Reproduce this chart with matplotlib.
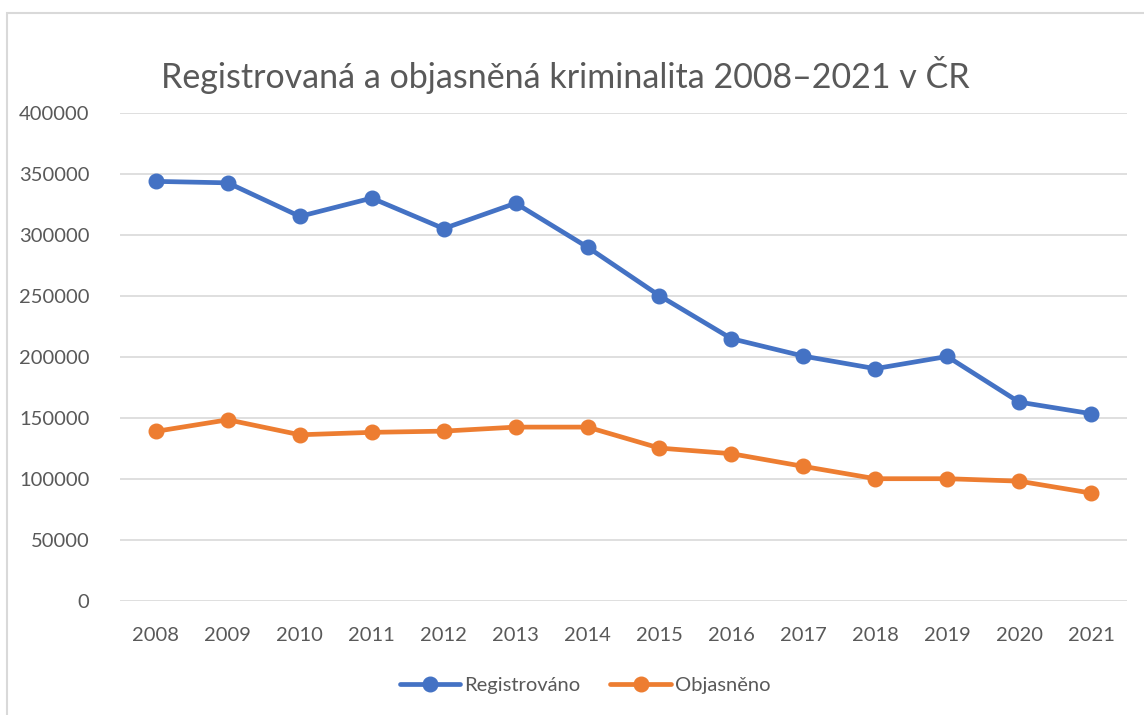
import numpy as np
import matplotlib.pyplot as plt
from matplotlib.patches import Rectangle

plt.rcParams['font.family'] = ['Lato', 'DejaVu Sans']

roky = ["2008", "2009", "2010", "2011", "2012", "2013", "2014",
        "2015", "2016", "2017", "2018", "2019", "2020", "2021"]
registrovano = [343700, 342500, 315000, 330000, 305000, 325800, 289800,
                250000, 214800, 200500, 190200, 200200, 162800, 153300]
objasneno = [138800, 148300, 136000, 138000, 139000, 142300, 142300,
             125100, 120500, 110100, 100000, 100000, 98000, 88200]

text_col = "#595959"

fig = plt.figure(figsize=(11.44, 7.15), dpi=100)
# ramecek grafu (jako v Excelu)
fig.patches.append(Rectangle((7 / 1144, -0.1), 1.2, 1.1 - 13 / 715,
                             transform=fig.transFigure, fill=False,
                             edgecolor="#d9d9d9", linewidth=1.5))
ax = fig.add_axes([120 / 1144, 1 - 600.7 / 715, (1127 - 120) / 1144, (600.7 - 112.7) / 715])

x = np.arange(len(roky))
ax.plot(x, registrovano, color="#4472C4", lw=3.4, marker="o", ms=10.5, label="Registrováno",
        solid_capstyle="round")
ax.plot(x, objasneno, color="#ED7D31", lw=3.4, marker="o", ms=10.5, label="Objasněno",
        solid_capstyle="round")

ax.set_xlim(-0.5, len(roky) - 0.5)
ax.set_ylim(0, 400000)
ax.set_yticks(np.arange(0, 400001, 50000))
ax.set_yticklabels([str(v) for v in range(0, 400001, 50000)])
ax.set_xticks(x)
ax.set_xticklabels(roky)
ax.grid(axis="y", color="#d9d9d9", lw=1.2)
ax.set_axisbelow(True)
for s in ax.spines.values():
    s.set_visible(False)
ax.tick_params(length=0, labelsize=14.5, colors=text_col)
ax.tick_params(axis="x", pad=19)
ax.tick_params(axis="y", pad=22)

fig.text(565 / 1144, 1 - 75 / 715, "Registrovaná a objasněná kriminalita 2008–2021 v ČR",
         ha="center", va="center", fontsize=24.5, color=text_col)

fig.legend(loc="center", bbox_to_anchor=(585 / 1144, 1 - 685 / 715), ncol=2, frameon=False,
           fontsize=14.5, labelcolor=text_col, handlelength=3, handletextpad=0.2,
           columnspacing=1.5)

fig.savefig("out.png", dpi=100)
